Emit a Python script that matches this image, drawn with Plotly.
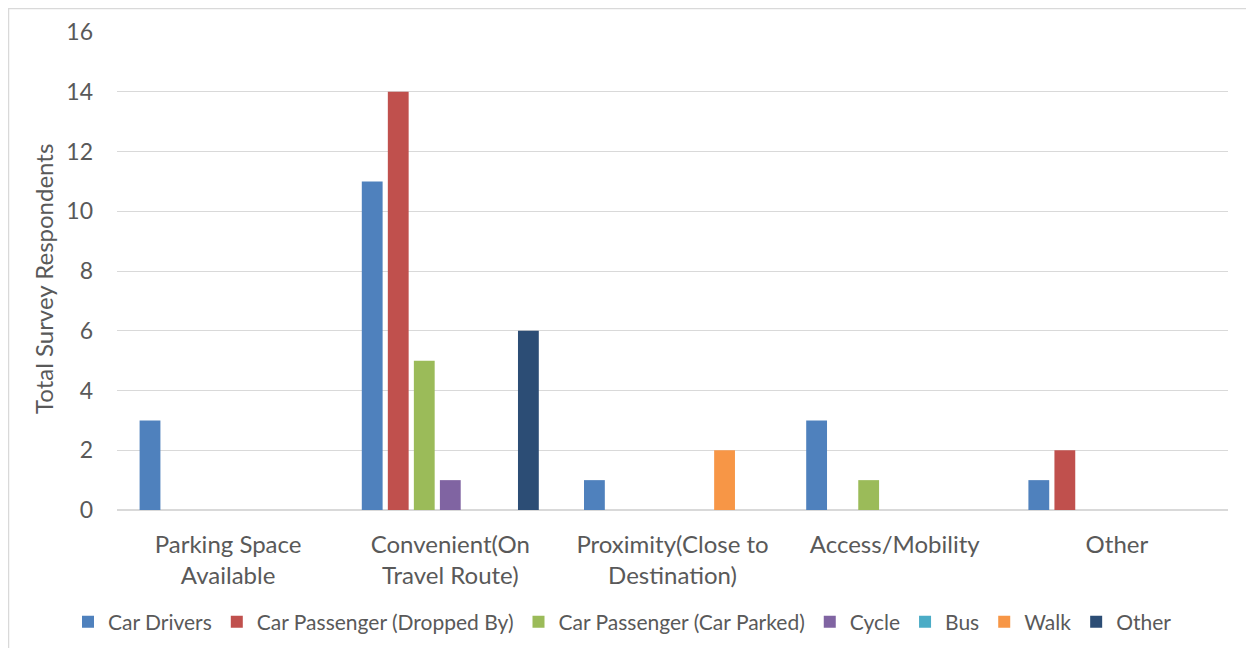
import plotly.graph_objects as go

categories = ["Parking Space<br>Available", "Convenient(On<br>Travel Route)",
              "Proximity(Close to<br>Destination)", "Access/Mobility", "Other"]
series_names = ["Car Drivers", "Car Passenger (Dropped By)", "Car Passenger (Car Parked)",
                "Cycle", "Bus", "Walk", "Other"]
car_drivers = [3, 11, 1, 3, 1]
car_pass_dropped = [0, 14, 0, 0, 2]
car_pass_parked = [0, 5, 0, 1, 0]
cycle = [0, 1, 0, 0, 0]
bus = [0, 0, 0, 0, 0]
walk = [0, 0, 2, 0, 0]
other = [0, 6, 0, 0, 0]
y_ticks = [0, 2, 4, 6, 8, 10, 12, 14, 16]

values = [car_drivers, car_pass_dropped, car_pass_parked, cycle, bus, walk, other]
colors = ["#4F81BD", "#C0504D", "#9BBB59", "#8064A2", "#4BACC6", "#F79646", "#2C4D75"]

# page body has an 8px margin, so figure coordinates are screen minus 8
OFF = 8
W, H = 1254 - OFF, 648 - OFF
L, R, T, B = 117 - OFF, 1228 - OFF, 32 - OFF, 510 - OFF

FONT = "Lato, Open Sans, sans-serif"
font_col = "#595959"

fig = go.Figure()
for name, vals, col in zip(series_names, values, colors):
    fig.add_trace(go.Bar(x=categories, y=vals, name=name, marker=dict(color=col, line=dict(width=0))))

pw, ph = R - L, B - T
fig.update_layout(
    width=W, height=H,
    margin=dict(l=L, r=W - R, t=T, b=H - B, autoexpand=False),
    paper_bgcolor="white", plot_bgcolor="white",
    barmode="group", bargap=0.18, bargroupgap=0.2,
    font=dict(family=FONT, color=font_col),
    legend=dict(orientation="h", x=(68 - OFF - L) / pw, xanchor="left",
                y=(B - (622 - OFF)) / ph, yanchor="middle", bgcolor="rgba(0,0,0,0)",
                font=dict(size=21, color=font_col, family=FONT), itemwidth=30, traceorder="normal",
                tracegroupgap=0),
    showlegend=True,
)
fig.update_xaxes(tickfont=dict(size=24, color=font_col, family=FONT), showline=True, linecolor="#D9D9D9",
                 ticks="", showgrid=False, ticklabelstandoff=13)
fig.update_yaxes(range=[0, 16], tickvals=y_ticks, tickfont=dict(size=23, color=font_col, family=FONT),
                 showgrid=True, gridcolor="#D9D9D9", gridwidth=1, zeroline=True,
                 zerolinecolor="#D9D9D9", ticks="", ticklen=0, ticklabelstandoff=23)

# y-axis title
fig.add_annotation(text="Total Survey Respondents", textangle=-90, showarrow=False,
                   xref="paper", yref="paper", x=(43 - OFF - L) / pw, y=(B - (279 - OFF)) / ph,
                   xanchor="center", yanchor="middle",
                   font=dict(size=24, color=font_col, family=FONT))

# outer chart border
fig.add_shape(type="rect", xref="paper", yref="paper",
              x0=(8.5 - OFF - L) / pw, x1=(1251.5 - OFF - L) / pw,
              y0=(B - (660 - OFF)) / ph, y1=(B - (8.5 - OFF)) / ph,
              line=dict(color="#D9D9D9", width=1.5), fillcolor="rgba(0,0,0,0)", layer="below")

fig.write_html("out.html")
